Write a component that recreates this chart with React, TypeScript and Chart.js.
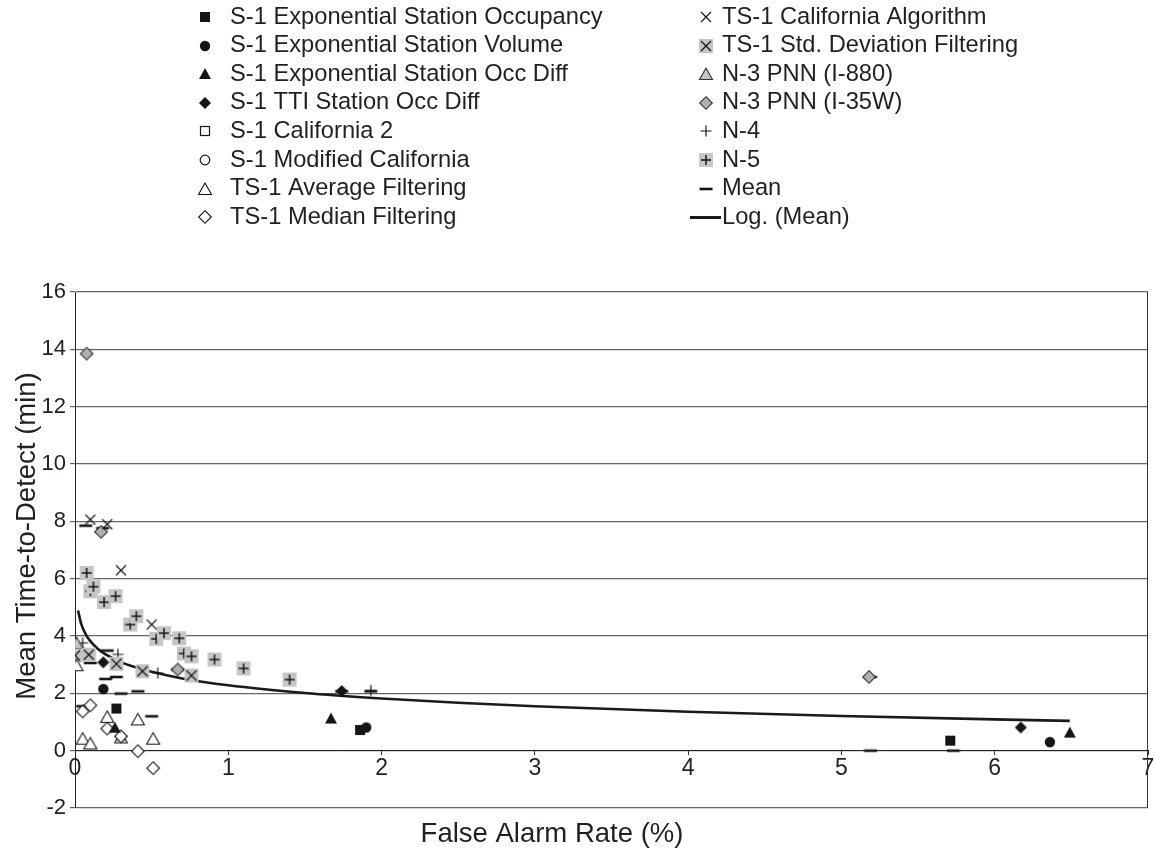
import React, { useEffect, useRef } from 'react';
import { Chart, registerables } from 'chart.js';

Chart.register(...registerables);

type P = [number, number];

// ---- data (x = false alarm rate %, y = mean time-to-detect min)
const s1ExpOccupancy: P[] = [[0.27, 1.47], [1.86, 0.72], [5.71, 0.35]];
const s1ExpVolume: P[] = [[0.185, 2.15], [1.9, 0.81], [6.36, 0.3]];
const s1ExpOccDiff: P[] = [[0.26, 0.8], [1.67, 1.12], [6.49, 0.63]];
const s1TtiOccDiff: P[] = [[0.185, 3.08], [1.74, 2.08], [6.17, 0.81]];
const s1California2: P[] = [];
const s1ModifiedCalifornia: P[] = [];
const ts1AverageFiltering: P[] = [[0.01, 2.98], [0.05, 0.42], [0.1, 0.25], [0.21, 1.18], [0.41, 1.09], [0.51, 0.42]];
const ts1MedianFiltering: P[] = [[0.05, 1.37], [0.1, 1.58], [0.21, 0.77], [0.3, 0.5], [0.41, -0.02], [0.51, -0.61]];
const ts1CaliforniaAlgorithm: P[] = [[0.1, 8.06], [0.21, 7.9], [0.3, 6.29], [0.5, 4.4]];
const ts1StdDeviationFiltering: P[] = [[0.0, 3.32], [0.09, 3.35], [0.27, 3.03], [0.44, 2.77], [0.76, 2.62]];
const n3PnnI880: P[] = [[0.01, 3.76], [0.3, 0.46]];
const n3PnnI35W: P[] = [[0.076, 13.85], [0.17, 7.63], [0.67, 2.83], [5.18, 2.57]];
const n4: P[] = [[0.05, 3.76], [0.28, 3.36], [0.54, 2.71], [1.93, 2.1]];
const n5: P[] = [
  [0.02, 3.38], [0.076, 6.2], [0.1, 5.56], [0.12, 5.72], [0.19, 5.18], [0.265, 5.39],
  [0.36, 4.4], [0.4, 4.69], [0.53, 3.9], [0.58, 4.1], [0.68, 3.92], [0.71, 3.39],
  [0.76, 3.29], [0.91, 3.18], [1.1, 2.87], [1.4, 2.48],
];
const meanValues: P[] = [
  [0.07, 7.85], [0.18, 7.76], [0.02, 3.35], [0.1, 3.06], [0.21, 3.49], [0.2, 2.5],
  [0.27, 2.57], [0.3, 1.99], [0.41, 2.07], [0.05, 1.55], [0.5, 1.2], [0.67, 2.83],
  [0.36, 4.38], [0.11, 5.65], [1.74, 2.07], [1.93, 2.07], [5.19, 2.57], [5.19, 0.0], [5.73, 0.0],
];
// logarithmic trend line of the mean
const logMeanX = [0.02, 0.04, 0.07, 0.1, 0.15, 0.2, 0.3, 0.4, 0.5, 0.7, 1, 1.5, 2, 2.5, 3, 4, 5, 6, 6.49];
const logMeanY = [4.89, 4.43, 4.06, 3.82, 3.55, 3.36, 3.09, 2.9, 2.75, 2.52, 2.28, 2.01, 1.82, 1.67, 1.55, 1.36, 1.21, 1.09, 1.04];

const xTitle = 'False Alarm Rate (%)';
const yTitle = 'Mean Time-to-Detect (min)';

const FONT = "'Liberation Sans', Arial, Helvetica, sans-serif";
const TEXT = '#231f20';

function makeMarker(kind: string): HTMLCanvasElement {
  const s = 16;
  const c = document.createElement('canvas');
  c.width = s;
  c.height = s;
  const g = c.getContext('2d')!;
  g.translate(s / 2, s / 2);
  g.lineJoin = 'miter';
  const ink = '#151515';
  const poly = (pts: number[][]) => {
    g.beginPath();
    g.moveTo(pts[0][0], pts[0][1]);
    for (let i = 1; i < pts.length; i++) g.lineTo(pts[i][0], pts[i][1]);
    g.closePath();
  };
  const cross = (r: number, w: number) => {
    g.strokeStyle = ink;
    g.lineWidth = w;
    g.beginPath();
    g.moveTo(-r, -r); g.lineTo(r, r);
    g.moveTo(r, -r); g.lineTo(-r, r);
    g.stroke();
  };
  const plus = (r: number, w: number) => {
    g.strokeStyle = ink;
    g.lineWidth = w;
    g.beginPath();
    g.moveTo(-r, 0); g.lineTo(r, 0);
    g.moveTo(0, -r); g.lineTo(0, r);
    g.stroke();
  };
  switch (kind) {
    case 'sqFill':
      g.fillStyle = ink; g.fillRect(-5, -5, 10, 10); break;
    case 'circFill':
      g.fillStyle = ink; g.beginPath(); g.arc(0, 0, 5.2, 0, Math.PI * 2); g.fill(); break;
    case 'triFill':
      g.fillStyle = ink; poly([[0, -6], [6, 5], [-6, 5]]); g.fill(); break;
    case 'diaFill':
      g.fillStyle = ink; poly([[0, -6], [6, 0], [0, 6], [-6, 0]]); g.fill(); break;
    case 'sqOpen':
      g.fillStyle = '#fff'; g.fillRect(-5, -5, 10, 10);
      g.strokeStyle = ink; g.lineWidth = 1.2; g.strokeRect(-4.5, -4.5, 9, 9); break;
    case 'circOpen':
      g.fillStyle = '#fff'; g.strokeStyle = ink; g.lineWidth = 1.2;
      g.beginPath(); g.arc(0, 0, 4.8, 0, Math.PI * 2); g.fill(); g.stroke(); break;
    case 'triOpen':
      g.fillStyle = '#fff'; g.strokeStyle = ink; g.lineWidth = 1.1;
      poly([[0, -6], [6.5, 5.5], [-6.5, 5.5]]); g.fill(); g.stroke(); break;
    case 'diaOpen':
      g.fillStyle = '#fff'; g.strokeStyle = ink; g.lineWidth = 1.1;
      poly([[0, -6.3], [6.3, 0], [0, 6.3], [-6.3, 0]]); g.fill(); g.stroke(); break;
    case 'cross':
      cross(5, 1.2); break;
    case 'crossBox':
      g.fillStyle = '#c4c4c4'; g.fillRect(-7, -7, 14, 14); cross(5, 1.3); break;
    case 'triGray':
      g.fillStyle = '#c2c2c2'; g.strokeStyle = '#333'; g.lineWidth = 1.1;
      poly([[0, -6], [6.5, 5.5], [-6.5, 5.5]]); g.fill(); g.stroke(); break;
    case 'diaGray':
      g.fillStyle = '#b0b0b0'; g.strokeStyle = '#333'; g.lineWidth = 1.1;
      poly([[0, -6.3], [6.3, 0], [0, 6.3], [-6.3, 0]]); g.fill(); g.stroke(); break;
    case 'plus':
      plus(5.5, 1.2); break;
    case 'plusBox':
      g.fillStyle = '#c6c6c6'; g.fillRect(-7, -7, 14, 14); plus(5, 1.5); break;
    case 'dash':
      g.fillStyle = ink; g.fillRect(-6.5, -1.3, 13, 2.6); break;
  }
  return c;
}

const legendPlugin = {
  id: 'customLegendAndFrame',
  afterDraw(chart: any) {
    const ctx: CanvasRenderingContext2D = chart.ctx;
    const a = chart.chartArea;
    ctx.save();
    // right frame line
    ctx.strokeStyle = '#333';
    ctx.lineWidth = 1;
    ctx.beginPath();
    const rx = Math.round(a.right) - 0.5;
    ctx.moveTo(rx, a.top);
    ctx.lineTo(rx, a.bottom);
    ctx.stroke();

    // legend in two columns
    ctx.font = `23.7px ${FONT}`;
    ctx.fillStyle = TEXT;
    ctx.textBaseline = 'middle';
    ctx.textAlign = 'left';
    chart.data.datasets.forEach((ds: any, i: number) => {
      const col = i < 8 ? 0 : 1;
      const row = i % 8;
      const y = 17 + row * 28.6;
      const mx = col === 0 ? 205 : 706;
      const tx = col === 0 ? 230 : 722;
      if (ds.showLine) {
        ctx.strokeStyle = '#1a1a1a';
        ctx.lineWidth = 3;
        ctx.beginPath();
        ctx.moveTo(690, Math.round(y) + 0.5);
        ctx.lineTo(721, Math.round(y) + 0.5);
        ctx.stroke();
      } else {
        const img = ds.pointStyle as HTMLCanvasElement;
        ctx.drawImage(img, Math.round(mx - img.width / 2), Math.round(y - img.height / 2));
      }
      ctx.fillStyle = TEXT;
      ctx.fillText(ds.label, tx, y);
    });

    // axis titles
    ctx.font = `27.5px ${FONT}`;
    ctx.textAlign = 'center';
    ctx.fillText(xTitle, 552, 834);
    ctx.translate(27, 536);
    ctx.rotate(-Math.PI / 2);
    ctx.fillText(yTitle, 0, 0);
    ctx.restore();
  },
};

export default function App() {
  const ref = useRef<HTMLCanvasElement>(null);
  useEffect(() => {
    if (!ref.current) return;
    const specs: { label: string; data: P[]; marker: string }[] = [
      { label: 'S-1 Exponential Station Occupancy', data: s1ExpOccupancy, marker: 'sqFill' },
      { label: 'S-1 Exponential Station Volume', data: s1ExpVolume, marker: 'circFill' },
      { label: 'S-1 Exponential Station Occ Diff', data: s1ExpOccDiff, marker: 'triFill' },
      { label: 'S-1 TTI Station Occ Diff', data: s1TtiOccDiff, marker: 'diaFill' },
      { label: 'S-1 California 2', data: s1California2, marker: 'sqOpen' },
      { label: 'S-1 Modified California', data: s1ModifiedCalifornia, marker: 'circOpen' },
      { label: 'TS-1 Average Filtering', data: ts1AverageFiltering, marker: 'triOpen' },
      { label: 'TS-1 Median Filtering', data: ts1MedianFiltering, marker: 'diaOpen' },
      { label: 'TS-1 California Algorithm', data: ts1CaliforniaAlgorithm, marker: 'cross' },
      { label: 'TS-1 Std. Deviation Filtering', data: ts1StdDeviationFiltering, marker: 'crossBox' },
      { label: 'N-3 PNN (I-880)', data: n3PnnI880, marker: 'triGray' },
      { label: 'N-3 PNN (I-35W)', data: n3PnnI35W, marker: 'diaGray' },
      { label: 'N-4', data: n4, marker: 'plus' },
      { label: 'N-5', data: n5, marker: 'plusBox' },
      { label: 'Mean', data: meanValues, marker: 'dash' },
    ];
    const datasets: any[] = specs.map((s) => ({
      label: s.label,
      data: s.data.map(([x, y]) => ({ x, y })),
      pointStyle: makeMarker(s.marker),
      pointRadius: 6,
      showLine: false,
    }));
    datasets.push({
      label: 'Log. (Mean)',
      data: logMeanX.map((x, i) => ({ x, y: logMeanY[i] })),
      showLine: true,
      pointRadius: 0,
      borderColor: '#1a1a1a',
      borderWidth: 2.6,
      cubicInterpolationMode: 'monotone',
      fill: false,
    });

    Chart.defaults.font.family = FONT;
    const chart = new Chart(ref.current, {
      type: 'scatter',
      data: { datasets },
      options: {
        animation: false,
        responsive: false,
        maintainAspectRatio: false,
        layout: { padding: { top: 292, bottom: 46, left: 0, right: 0 } },
        plugins: { legend: { display: false }, tooltip: { enabled: false } },
        scales: {
          x: {
            type: 'linear',
            position: { y: 0 } as any,
            min: 0,
            max: 7,
            ticks: { stepSize: 1, color: TEXT, font: { size: 23, family: FONT }, padding: 0, maxRotation: 0 },
            grid: { drawOnChartArea: false, drawTicks: true, tickLength: 4, color: '#333' },
            border: { color: '#222', width: 1 },
          },
          y: {
            type: 'linear',
            min: -2,
            max: 16,
            ticks: { stepSize: 2, color: TEXT, font: { size: 22, family: FONT }, padding: 4 },
            grid: { color: '#666', lineWidth: 1.2, tickLength: 5 },
            border: { color: '#222', width: 1 },
            title: { display: false },
            afterFit: (scale: any) => {
              scale.width = 75;
            },
          },
        },
      } as any,
      plugins: [legendPlugin],
    });
    return () => chart.destroy();
  }, []);
  return (
    <canvas
      ref={ref}
      width={1155}
      height={854}
      style={{ position: 'absolute', left: 0, top: 0, width: 1155, height: 854 }}
    />
  );
}
